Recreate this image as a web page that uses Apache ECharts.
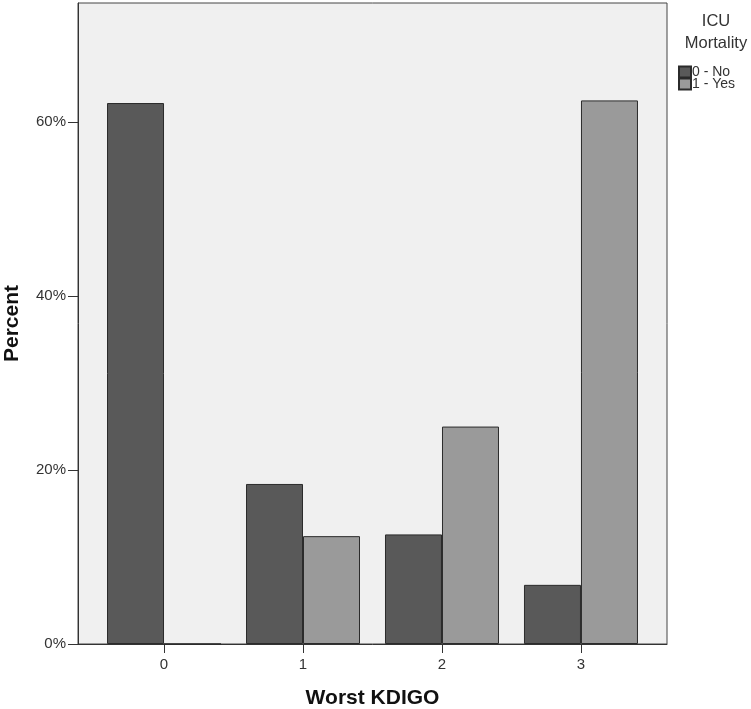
<!DOCTYPE html>
<html>
<head>
<meta charset="utf-8">
<title>Worst KDIGO</title>
<script src="https://cdn.jsdelivr.net/npm/echarts@6/dist/echarts.min.js"></script>
<style>
  html, body { margin: 0; padding: 0; background: #fff; }
  #chart { width: 751px; height: 709px; }
</style>
</head>
<body>
<div id="chart"></div>
<script>
// 数据
var categories = ['0', '1', '2', '3'];
var noValues = [62.2, 18.4, 12.6, 6.8];
var yesValues = [0, 12.4, 25.0, 62.5];
var yTicks = [0, 20, 40, 60];

(function() {
  var myChart = echarts.init(document.getElementById('chart'));
  var font = 'Liberation Sans, Arial, sans-serif';
  var catIdx = categories.map(function(c, i) { return i; });

  function pairs(arr) {
    return arr.map(function(v, i) { return [i, v]; });
  }

  var option = {
    animation: false,
    textStyle: { fontFamily: font },
    title: {
      text: 'ICU\nMortality',
      left: 716,
      top: 10,
      padding: 0,
      textAlign: 'center',
      textStyle: { fontSize: 16.5, fontWeight: 'normal', color: '#333', lineHeight: 22, fontFamily: font }
    },
    legend: {
      orient: 'vertical',
      left: 678,
      top: 65,
      padding: 0,
      icon: 'rect',
      itemWidth: 12,
      itemHeight: 11,
      itemGap: -2,
      textStyle: { fontSize: 14, color: '#333', padding: [0, 0, 0, -4], lineHeight: 11, fontFamily: font },
      data: ['0 - No', '1 - Yes']
    },
    grid: {
      left: 78,
      right: 84,
      top: 3,
      bottom: 65,
      outerBoundsMode: 'none',
      containLabel: false,
      show: true,
      backgroundColor: '#f0f0f0',
      borderColor: '#444',
      borderWidth: 1
    },
    xAxis: {
      type: 'value',
      min: -0.619,
      max: 3.619,
      name: 'Worst KDIGO',
      nameLocation: 'middle',
      nameGap: 44,
      nameTextStyle: { fontSize: 21, fontWeight: 'bold', color: '#111', fontFamily: font },
      splitLine: { show: false },
      axisLine: { onZero: false, lineStyle: { color: '#333' } },
      axisTick: { customValues: catIdx, length: 9, lineStyle: { color: '#333' } },
      axisLabel: {
        customValues: catIdx,
        color: '#333',
        fontSize: 15,
        margin: 13,
        formatter: function(v) { return categories[Math.round(v)]; }
      }
    },
    yAxis: {
      type: 'value',
      min: 0,
      max: 73.7,
      interval: 20,
      name: 'Percent',
      nameLocation: 'middle',
      nameGap: 55,
      nameTextStyle: { fontSize: 21, fontWeight: 'bold', color: '#111', fontFamily: font },
      splitLine: { show: false },
      axisLine: { show: true, onZero: false, lineStyle: { color: '#333' } },
      axisTick: { show: true, customValues: yTicks, length: 10, lineStyle: { color: '#333' } },
      axisLabel: {
        customValues: yTicks,
        color: '#333',
        fontSize: 15,
        margin: 12,
        formatter: '{value}%'
      }
    },
    series: [
      {
        name: '0 - No',
        type: 'bar',
        barWidth: 57,
        barGap: '0%',
        itemStyle: { color: '#595959', borderColor: '#2b2b2b', borderWidth: 1 },
        data: pairs(noValues)
      },
      {
        name: '1 - Yes',
        type: 'bar',
        barWidth: 57,
        barGap: '0%',
        itemStyle: { color: '#9a9a9a', borderColor: '#2b2b2b', borderWidth: 1 },
        data: pairs(yesValues)
      }
    ]
  };

  myChart.setOption(option);
  window.addEventListener('resize', function() {
    myChart.resize();
  });
})();
</script>
</body>
</html>
